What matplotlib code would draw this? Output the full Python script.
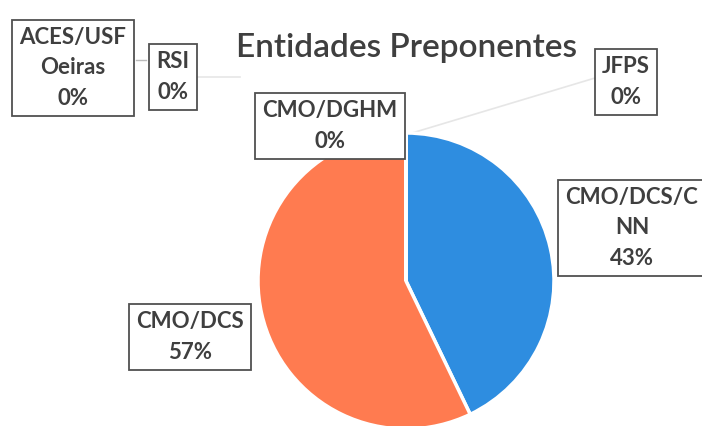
import matplotlib
matplotlib.use("Agg")
import matplotlib.pyplot as plt

# ---- data ----
categories = ["CMO/DCS/CNN", "CMO/DCS", "CMO/DGHM", "ACES/USF Oeiras", "RSI", "JFPS"]
display_names = ["CMO/DCS/C\nNN", "CMO/DCS", "CMO/DGHM", "ACES/USF\nOeiras", "RSI", "JFPS"]
counts = [3, 4, 0, 0, 0, 0]
title = "Entidades Preponentes"

# ---- style / layout ----
colors = ["#2E8DE0", "#FF7B50", "#A5A5A5", "#FFC000", "#5B9BD5", "#70AD47"]
W, H = 702, 426
label_pos = [(632, 228), (190, 337), (330, 126), (73, 68), (173, 77), (626, 82)]
text_color = "#3F3F3F"

plt.rcParams['font.family'] = ['Lato', 'DejaVu Sans']

fig = plt.figure(figsize=(W / 100, H / 100), dpi=100)
ax = fig.add_axes([0, 0, 1, 1])

cx, cy, r = 406, H - 281, 148
ax.pie(counts, colors=colors, startangle=90, counterclock=False,
       center=(cx, cy), radius=r,
       wedgeprops=dict(edgecolor="white", linewidth=2.5))

ax.set_xlim(0, W)
ax.set_ylim(0, H)
ax.set_aspect("equal")
ax.axis("off")

# faint leader lines
ax.plot([412, 595], [H - 133, H - 78], color="#E6E6E6", lw=1.2, zorder=0)
ax.plot([198, 240], [H - 77, H - 77], color="#E6E6E6", lw=1.2, zorder=0)
ax.plot([136, 146], [H - 60, H - 60], color="#BBBBBB", lw=1.0, zorder=0)

total = sum(counts)
for name, val, (px, py) in zip(display_names, counts, label_pos):
    pct = round(100 * val / total)
    ax.text(px, H - py, f"{name}\n{pct}%", ha="center", va="center",
            fontsize=16, fontweight="bold", color=text_color, linespacing=1.55,
            bbox=dict(boxstyle="square,pad=0.33", facecolor="white",
                      edgecolor="#505050", linewidth=1.3), zorder=5)

ax.text(406, H - 48, title, ha="center", va="center", fontsize=24,
        color=text_color, fontweight="semibold")

fig.savefig("out.png", dpi=100)
